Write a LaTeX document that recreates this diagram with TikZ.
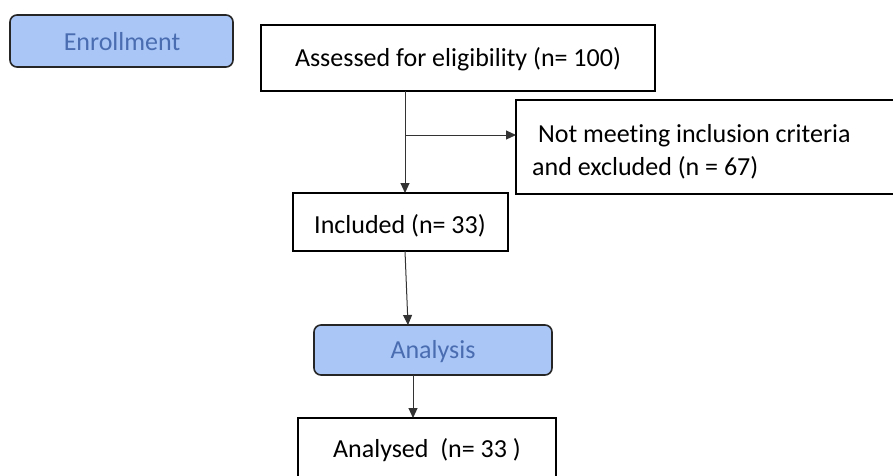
\documentclass[tikz,border=0pt]{standalone}
\usepackage{fontspec}
\setmainfont{Carlito}[Ligatures=NoCommon]
\usetikzlibrary{arrows.meta}
\definecolor{phasefill}{HTML}{A9C6F7}
\definecolor{phasetext}{HTML}{4A6CB0}
\tikzset{
  box/.style={draw=black, line width=1.6pt, fill=white},
  phase/.style={draw=black!85, line width=1.6pt, fill=phasefill, rounded corners=7pt},
  txt/.style={font=\fontsize{26}{33}\selectfont, inner sep=0pt},
  conn/.style={draw=black!80, line width=1pt, -{Triangle[length=10pt,width=9pt]}},
}
\begin{document}
\begin{tikzpicture}[x=1pt,y=-1pt]
\useasboundingbox (0,0) rectangle (893,475);
\begin{scope}
\clip (0,0) rectangle (893,475);
% Enrollment
\draw[phase] (10,15) rectangle (233,67);
\node[txt, text=phasetext] (enr) at (122,42) {Enrollment};
% Assessed
\draw[box] (261,25) rectangle (655,91);
\node[txt] (ass) at (458,59) {Assessed for eligibility (n= 100)};
% Not meeting
\draw[box] (516,100) rectangle (900,194);
\node[txt, align=left, anchor=west] (excl) at (532,152) {\ Not meeting inclusion criteria\\and excluded (n = 67)};
% Included
\draw[box] (293,193) rectangle (508,251);
\node[txt] (inc) at (400,226) {Included (n= 33)};
% Analysis
\draw[phase] (314,325) rectangle (552,375);
\node[txt, text=phasetext] (ana) at (433,352) {Analysis};
% Analysed
\draw[box] (298,418) rectangle (556,480);
\node[txt] (anl) at (427,450) {Analysed\ \ (n= 33 )};
\end{scope}
% connectors
\coordinate (a1) at (405,91);
\coordinate (a2) at (405,193);
\coordinate (b1) at (405,135);
\coordinate (b2) at (516,135);
\coordinate (c1) at (405,251);
\coordinate (c2) at (408,325);
\coordinate (d1) at (413,375);
\coordinate (d2) at (413,418);
\draw[conn] (a1) -- (a2);
\draw[conn] (b1) -- (b2);
\draw[conn] (c1) -- (c2);
\draw[conn] (d1) -- (d2);
\end{tikzpicture}
\end{document}
